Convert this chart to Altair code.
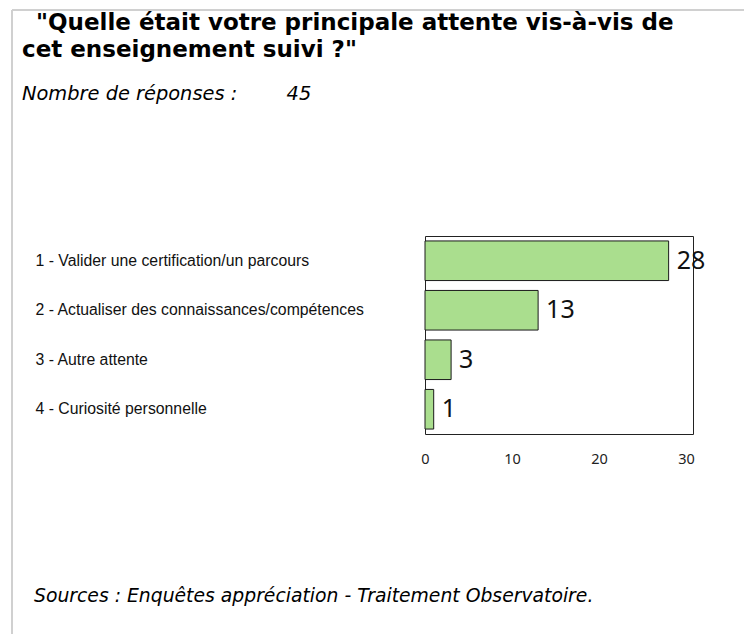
import altair as alt
import pandas as pd

categories = [
    "1 - Valider une certification/un parcours",
    "2 - Actualiser des connaissances/compétences",
    "3 - Autre attente",
    "4 - Curiosité personnelle",
]
counts = [28, 13, 3, 1]
x_ticks = [0, 10, 20, 30]

title_line1 = "\"Quelle était votre principale attente vis-à-vis de"
title_line2 = "cet enseignement suivi ?\""
subtitle_text = "Nombre de réponses :" + "\u00a0" * 8 + "45"
footer_text = "Sources : Enquêtes appréciation - Traitement Observatoire."

df = pd.DataFrame({"cat": categories, "n": counts})

PL, PT, W, H = 425, 236, 268, 198

xscale = alt.Scale(domain=[0, 30.8], nice=False, zero=True)
yscale = alt.Scale(paddingInner=0.2, paddingOuter=0.1)

bars = alt.Chart(df).mark_bar(
    color="#aade8e", stroke="#1a1a1a", strokeWidth=1
).encode(
    x=alt.X("n:Q", scale=xscale, axis=alt.Axis(
        values=x_ticks, title=None, grid=False, domain=False, ticks=False,
        tickSize=0, labelPadding=18, labelFlush=False, labelFont="Noto Sans",
        labelFontSize=14.5, labelColor="#222222")),
    y=alt.Y("cat:N", sort=categories, scale=yscale, axis=alt.Axis(
        title=None, domain=False, ticks=False, tickSize=0, labelAlign="left",
        labelPadding=PL - 35, labelFont="Liberation Sans", labelFontSize=15.8,
        labelColor="#111111", labelLimit=400)),
)

labels = alt.Chart(df).mark_text(
    align="left", baseline="middle", dx=8, fontSize=25, font="Noto Sans",
    color="#111111"
).encode(
    x=alt.X("n:Q", scale=xscale),
    y=alt.Y("cat:N", sort=categories, scale=yscale),
    text=alt.Text("n:Q"),
)

one = alt.Data(values=[{}])
frame_left = alt.Chart(one).mark_rule(color="#d0d0d0", strokeWidth=2).encode(
    x=alt.value(12 - PL), y=alt.value(10 - PT), y2=alt.value(634 - PT))
frame_top = alt.Chart(one).mark_rule(color="#d0d0d0", strokeWidth=2).encode(
    y=alt.value(10 - PT), x=alt.value(12 - PL), x2=alt.value(744 - PL))


def text_at(txt, x, y, size, weight="normal", style="normal"):
    return alt.Chart(one).mark_text(
        align="left", baseline="alphabetic", fontSize=size, font="DejaVu Sans",
        fontWeight=weight, fontStyle=style, color="#000000"
    ).encode(x=alt.value(x - PL), y=alt.value(y - PT), text=alt.value(txt))


t1 = text_at(title_line1, 36, 30, 23, weight="bold")
t2 = text_at(title_line2, 22, 57, 23, weight="bold")
sub = text_at(subtitle_text, 22, 100, 19.4, style="italic")
footer = text_at(footer_text, 34, 602, 18.8, style="italic")

chart = alt.layer(frame_left, frame_top, bars, labels, t1, t2, sub, footer).properties(
    width=W, height=H,
    padding={"left": PL, "top": PT, "right": 744 - PL - W, "bottom": 634 - PT - H},
    autosize=alt.AutoSizeParams(type="none"),
).configure(background="white").configure_view(stroke="#222222", strokeWidth=1)

chart.save("out.html", embed_options={"renderer": "svg", "actions": False})
